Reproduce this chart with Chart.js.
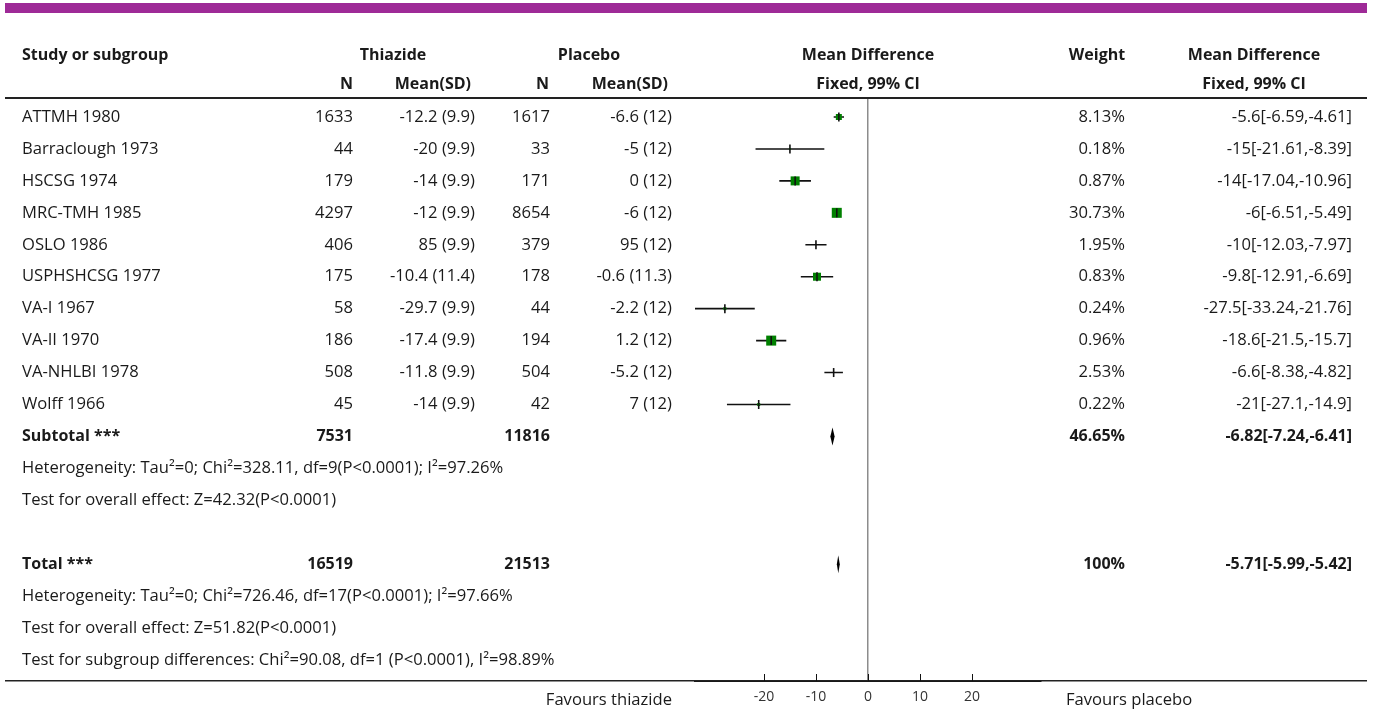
<!DOCTYPE html>
<html><head><meta charset="utf-8">
<script src="https://cdn.jsdelivr.net/npm/chart.js@4.4.1/dist/chart.umd.min.js"></script>
<style>html,body{margin:0;padding:0;background:#fff;}#wrap{position:relative;width:1375px;height:713px;}</style>
</head><body><div id="wrap"><canvas id="c" width="1375" height="713"></canvas></div>
<script>
// ---------- DATA ----------
const studies = ["ATTMH 1980","Barraclough 1973","HSCSG 1974","MRC-TMH 1985","OSLO 1986","USPHSHCSG 1977","VA-I 1967","VA-II 1970","VA-NHLBI 1978","Wolff 1966"];
const thzN = [1633,44,179,4297,406,175,58,186,508,45];
const thzMean = [-12.2,-20,-14,-12,85,-10.4,-29.7,-17.4,-11.8,-14];
const thzSD = [9.9,9.9,9.9,9.9,9.9,11.4,9.9,9.9,9.9,9.9];
const plcN = [1617,33,171,8654,379,178,44,194,504,42];
const plcMean = [-6.6,-5,0,-6,95,-0.6,-2.2,1.2,-5.2,7];
const plcSD = [12,12,12,12,12,11.3,12,12,12,12];
const weights = [8.13,0.18,0.87,30.73,1.95,0.83,0.24,0.96,2.53,0.22];
const md = [-5.6,-15,-14,-6,-10,-9.8,-27.5,-18.6,-6.6,-21];
const ciLo = [-6.59,-21.61,-17.04,-6.51,-12.03,-12.91,-33.24,-21.5,-8.38,-27.1];
const ciHi = [-4.61,-8.39,-10.96,-5.49,-7.97,-6.69,-21.76,-15.7,-4.82,-14.9];

const subtotalN = [7531,11816];
const subtotalWeight = 46.65;
const subtotalMD = [-6.82,-7.24,-6.41];
const totalN = [16519,21513];
const totalWeight = 100;
const totalMD = [-5.71,-5.99,-5.42];

const subHet = "Heterogeneity: Tau\u00B2=0; Chi\u00B2=328.11, df=9(P<0.0001); I\u00B2=97.26%";
const subTest = "Test for overall effect: Z=42.32(P<0.0001)";
const totHet = "Heterogeneity: Tau\u00B2=0; Chi\u00B2=726.46, df=17(P<0.0001); I\u00B2=97.66%";
const totTest = "Test for overall effect: Z=51.82(P<0.0001)";
const subgroupTest = "Test for subgroup differences: Chi\u00B2=90.08, df=1 (P<0.0001), I\u00B2=98.89%";

const tickVals = [-20,-10,0,10,20];
const favLeft = "Favours thiazide";
const favRight = "Favours placebo";

// ---------- STYLE ----------
const boxSide = [6,2,9,10,0,8,3,10,0,3]; // drawn square sizes (px)
const FONT = "'Open Sans'";
const TXT = "#1a1a1a";
const rowSub = 10, rowSubHet = 11, rowSubTest = 12, rowTot = 14, rowTotHet = 15, rowTotTest = 16, rowSubgroup = 17;

// ---------- DATASETS ----------
const ciData = [];
studies.forEach((s,i)=>{ ciData.push({x:ciLo[i],y:i}); ciData.push({x:ciHi[i],y:i}); ciData.push({x:null,y:null}); });
const pts = md.map((v,i)=>({x:v,y:i}));

const fmt = (m,sd)=> m + " (" + sd + ")";
const fmtCI = (a)=> a[0] + "[" + a[1] + "," + a[2] + "]";

const tablePlugin = {
  id:'table',
  afterDatasetsDraw(chart){
    const ctx = chart.ctx, xs = chart.scales.x, ys = chart.scales.y;
    const diamonds = [[rowSub, subtotalMD],[rowTot, totalMD]];
    ctx.save();
    ctx.fillStyle = '#000';
    diamonds.forEach(([r,a])=>{
      const y = ys.getPixelForValue(r);
      const xl = xs.getPixelForValue(a[1]), xm = xs.getPixelForValue(a[0]), xr = xs.getPixelForValue(a[2]);
      ctx.beginPath();
      ctx.moveTo(xl,y); ctx.lineTo(xm,y-9); ctx.lineTo(xr,y); ctx.lineTo(xm,y+9); ctx.closePath(); ctx.fill();
    });
    ctx.restore();
  },
  afterDraw(chart){
    const ctx = chart.ctx, xs = chart.scales.x, ys = chart.scales.y;
    ctx.save();
    ctx.fillStyle = '#9E2A97';
    ctx.fillRect(5,3,1362,10);
    ctx.fillStyle = '#222';
    ctx.fillRect(5,97,1362,2);
    ctx.fillRect(5,680,1362,1.5);
    ctx.strokeStyle = '#111'; ctx.lineWidth = 1;
    tickVals.forEach(v=>{
      const x = Math.round(xs.getPixelForValue(v))+0.5;
      ctx.beginPath(); ctx.moveTo(x,674); ctx.lineTo(x,681); ctx.stroke();
    });
    const txt = (s,x,y,align,bold)=>{
      ctx.font = (bold?'bold 16px ':'16.6px ') + FONT;
      ctx.textAlign = align; ctx.textBaseline = 'middle'; ctx.fillStyle = TXT;
      ctx.fillText(s,x,y);
    };
    txt("Study or subgroup",22,55,'left',true);
    txt("Thiazide",393,55,'center',true);
    txt("Placebo",589,55,'center',true);
    txt("Mean Difference",868,55,'center',true);
    txt("Weight",1097,55,'center',true);
    txt("Mean Difference",1254,55,'center',true);
    txt("N",353,84,'right',true);
    txt("Mean(SD)",471,84,'right',true);
    txt("N",549,84,'right',true);
    txt("Mean(SD)",668,84,'right',true);
    txt("Fixed, 99% CI",868,84,'center',true);
    txt("Fixed, 99% CI",1254,84,'center',true);
    studies.forEach((s,i)=>{
      const y = ys.getPixelForValue(i);
      txt(s,22,y,'left');
      txt(String(thzN[i]),353,y,'right');
      txt(fmt(thzMean[i],thzSD[i]),475,y,'right');
      txt(String(plcN[i]),550,y,'right');
      txt(fmt(plcMean[i],plcSD[i]),672,y,'right');
      txt(weights[i]+"%",1125,y,'right');
      txt(fmtCI([md[i],ciLo[i],ciHi[i]]),1352,y,'right');
    });
    let y = ys.getPixelForValue(rowSub);
    txt("Subtotal ***",22,y,'left',true);
    txt(String(subtotalN[0]),353,y,'right',true);
    txt(String(subtotalN[1]),550,y,'right',true);
    txt(subtotalWeight+"%",1125,y,'right',true);
    txt(fmtCI(subtotalMD),1352,y,'right',true);
    txt(subHet,22,ys.getPixelForValue(rowSubHet),'left');
    txt(subTest,22,ys.getPixelForValue(rowSubTest),'left');
    y = ys.getPixelForValue(rowTot);
    txt("Total ***",22,y,'left',true);
    txt(String(totalN[0]),353,y,'right',true);
    txt(String(totalN[1]),550,y,'right',true);
    txt(totalWeight+"%",1125,y,'right',true);
    txt(fmtCI(totalMD),1352,y,'right',true);
    txt(totHet,22,ys.getPixelForValue(rowTotHet),'left');
    txt(totTest,22,ys.getPixelForValue(rowTotTest),'left');
    txt(subgroupTest,22,ys.getPixelForValue(rowSubgroup),'left');
    txt(favLeft,672,700,'right');
    txt(favRight,1066,700,'left');
    ctx.restore();
  }
};

new Chart(document.getElementById('c').getContext('2d'),{
  type:'scatter',
  data:{datasets:[
    {type:'line', data:ciData, borderColor:'#111', borderWidth:1.6, pointRadius:0, spanGaps:false, fill:false, order:3},
    {type:'scatter', data:pts, pointStyle:'rect', pointRadius:boxSide.map(s=>s/Math.SQRT2), backgroundColor:'#008000', borderWidth:0, order:2},
    {type:'scatter', data:pts, pointStyle:'line', pointRotation:90, pointRadius:4.5, borderColor:'#111', borderWidth:1.6, order:1}
  ]},
  options:{
    responsive:false, animation:false, events:[],
    layout:{padding:{left:695,right:334,top:98,bottom:0}},
    plugins:{legend:{display:false},tooltip:{enabled:false}},
    scales:{
      x:{type:'linear', min:-33.24, max:33.24,
        afterBuildTicks:s=>{ s.ticks = tickVals.map(v=>({value:v})); },
        afterFit:s=>{ s.height = 32; },
        grid:{drawTicks:false, lineWidth:1.5, color:c=>(c.tick && c.tick.value===0)?'#8c8c8c':'rgba(0,0,0,0)'},
        border:{display:true,color:'#111',width:2},
        ticks:{padding:8,color:'#333',font:{family:"Open Sans",size:14},autoSkip:false,maxRotation:0}
      },
      y:{type:'linear', reverse:true, min:-0.595, max:17.657, display:false}
    }
  },
  plugins:[tablePlugin]
});
</script></body></html>
